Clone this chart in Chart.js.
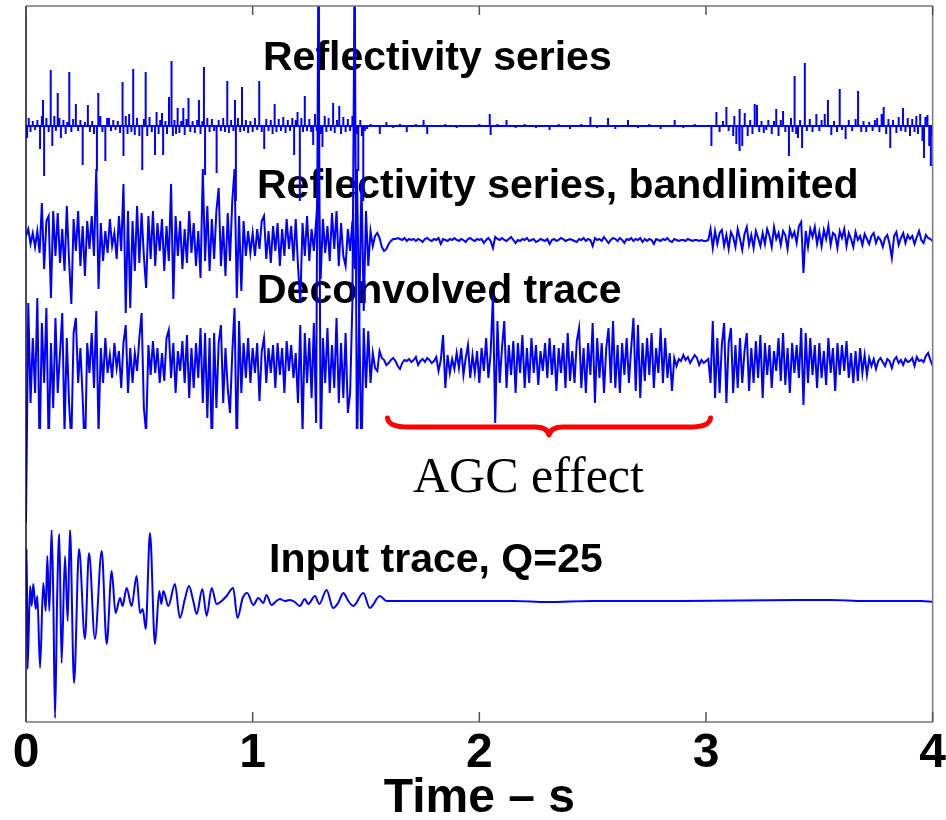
<!DOCTYPE html>
<html>
<head>
<meta charset="utf-8">
<title>Deconvolution traces</title>
<script src="https://cdn.jsdelivr.net/npm/chart.js@4.4.0/dist/chart.umd.min.js"></script>
<style>
  body { margin: 0; background: #fff; }
  #wrap { width: 946px; height: 820px; }
</style>
</head>
<body>
<div id="wrap"><canvas id="myChart" width="946" height="820"></canvas></div>
<script>
// time axis (s)
const timeTicks = [0, 1, 2, 3, 4]
const sampleStep = 0.01

// reflectivity series: spike times (s) and amplitudes
const reflTime = [0.005, 0.012, 0.02, 0.03, 0.04, 0.05, 0.062, 0.07, 0.075, 0.08, 0.09, 0.1, 0.109, 0.116, 0.125, 0.132, 0.14, 0.147, 0.154, 0.165,
  0.175, 0.182, 0.191, 0.2, 0.208, 0.22, 0.23, 0.24, 0.25, 0.26, 0.273, 0.282, 0.292, 0.3, 0.313, 0.319, 0.328, 0.337, 0.35, 0.358,
  0.366, 0.375, 0.385, 0.395, 0.405, 0.415, 0.426, 0.43, 0.44, 0.448, 0.455, 0.465, 0.473, 0.48, 0.49, 0.5, 0.513, 0.52, 0.528, 0.535,
  0.545, 0.555, 0.569, 0.576, 0.585, 0.592, 0.6, 0.605, 0.615, 0.622, 0.631, 0.642, 0.648, 0.655, 0.662, 0.669, 0.677, 0.685, 0.694, 0.7,
  0.708, 0.717, 0.725, 0.735, 0.745, 0.755, 0.763, 0.77, 0.778, 0.785, 0.79, 0.8, 0.81, 0.82, 0.83, 0.841, 0.85, 0.86, 0.87, 0.878,
  0.888, 0.895, 0.905, 0.915, 0.922, 0.926, 0.935, 0.945, 0.953, 0.962, 0.97, 0.98, 0.99, 1.0, 1.01, 1.02, 1.029, 1.04, 1.051, 1.06,
  1.07, 1.08, 1.088, 1.097, 1.105, 1.115, 1.125, 1.135, 1.145, 1.155, 1.165, 1.175, 1.183, 1.19, 1.198, 1.208, 1.215, 1.222, 1.23, 1.24,
  1.25, 1.258, 1.267, 1.275, 1.283, 1.292, 1.3, 1.308, 1.318, 1.325, 1.335, 1.345, 1.355, 1.362, 1.372, 1.382, 1.39, 1.4, 1.41, 1.42,
  1.43, 1.44, 1.45, 1.458, 1.466, 1.475, 1.482, 1.488, 1.495, 1.505, 1.52, 1.561, 1.59, 1.62, 1.65, 1.68, 1.72, 1.754, 1.77, 1.8,
  1.85, 1.9, 1.95, 2.0, 2.046, 2.05, 2.08, 2.12, 2.16, 2.2, 2.25, 2.31, 2.35, 2.4, 2.45, 2.49, 2.52, 2.568, 2.6, 2.656,
  2.7, 2.75, 2.8, 2.862, 2.9, 2.95, 2.98, 3.024, 3.046, 3.06, 3.075, 3.09, 3.1, 3.12, 3.125, 3.134, 3.146, 3.15, 3.16, 3.171,
  3.184, 3.195, 3.205, 3.215, 3.225, 3.235, 3.245, 3.255, 3.266, 3.275, 3.29, 3.3, 3.31, 3.32, 3.33, 3.34, 3.35, 3.366, 3.375, 3.382,
  3.391, 3.398, 3.406, 3.415, 3.424, 3.436, 3.445, 3.458, 3.47, 3.487, 3.5, 3.51, 3.524, 3.538, 3.553, 3.565, 3.578, 3.59, 3.6, 3.616,
  3.63, 3.645, 3.66, 3.671, 3.685, 3.695, 3.707, 3.72, 3.735, 3.745, 3.755, 3.765, 3.775, 3.784, 3.795, 3.805, 3.813, 3.825, 3.84, 3.85,
  3.86, 3.869, 3.88, 3.89, 3.9, 3.91, 3.92, 3.928, 3.935, 3.945, 3.955, 3.962, 3.968, 3.977, 3.985, 3.992, 4.0]
const reflAmp = [-12, 8, -6, 5, -4, 6, -23, 10, 26, -50, 8, -6, 56, -20, 10, -5, 33, 8, -12, 6,
  -8, 4, 54, -6, 7, 22, -5, 6, -39, 4, 21, -6, 5, -8, -45, 33, 10, -6, -35, 8,
  8, -5, 6, -4, 5, -7, 44, -30, 10, -8, 12, -6, 57, -9, 8, -10, -44, 7, 54, -10,
  9, -6, -29, 14, -8, 6, 13, -29, 5, -8, 29, 65, -10, 6, -8, 18, -7, 5, 18, -9,
  7, 28, -6, 5, -7, 6, 26, -8, 5, 59, -49, 8, -6, 7, -5, -47, 6, -5, 8, -6,
  45, -7, 6, -5, 26, -75, 8, -6, 39, -5, 6, -7, 5, -6, 8, -4, 45, -6, -23, 7,
  -5, 6, -8, 22, -6, 7, -5, 9, -7, 6, -5, 8, -29, 6, 14, -75, 8, -6, 30, -5,
  7, -6, -19, 12, -5, 200, -8, -21, 10, -6, 8, -5, 23, -7, 6, 20, -8, 9, -6, 7,
  -5, 10, 200, -8, -45, 6, -10, -75, -5, -3, 2, -8, 4, -2, 2, -6, 2, 6, -8, 1,
  2, -2, 1, 2, 12, -9, 2, 6, -2, 2, -2, -4, 2, -3, 2, 9, -2, 8, -3, 6,
  -2, 2, -3, 6, -2, 2, -1, -20, 14, -6, 5, 19, -5, -10, 10, -18, 17, -25, -20, 13,
  -10, 6, -8, 22, 21, -6, 5, -7, -4, 6, -8, 5, 17, -10, 6, 15, -6, -30, 8, -6,
  50, -8, -12, 6, -22, 63, -5, 7, -6, 12, -5, 6, 12, 26, -9, 5, -6, 37, -4, -13,
  6, -5, 7, 35, -6, 5, -6, 4, -5, 6, 8, -6, 12, 19, -8, 7, -22, 6, -7, 9,
  -5, 18, -6, 8, -10, 7, -6, 10, -8, 12, -15, -32, 9, 11, -20, -40, -10]

// bandlimited reflectivity, one value every 0.01 s
const bandAmp = [5, 12, -3, 8, -6, 10, -12, 38, -28, 20,
  25, -57, 30, -15, 28, -22, 12, -30, 35, -20,
  -63, 22, -10, 30, -25, 15, -35, 20, -8, 25,
  -15, 72, -48, 18, -20, 10, -12, 22, -5, 8,
  -18, 25, -10, 57, -72, 30, -67, 20, -30, 35,
  -22, 28, -15, -47, 25, -18, 30, -25, 18, -10,
  22, -30, 15, -20, 57, -58, 25, -15, 20, -28,
  12, -22, 30, -12, 18, -25, 10, -37, 72, -20,
  35, -30, 22, -18, 30, 53, -25, 15, -35, 28,
  -20, 40, 72, -57, 25, -50, 20, -15, 10, -12,
  8, -15, 12, -8, 20, 25, -18, 10, -22, 15,
  -10, 18, -25, 12, -15, 22, -8, 15, -20, 22,
  -25, -62, 18, -15, 25, -20, 12, -10, 20, 55,
  -38, 22, -12, 15, -20, 28, -8, 30, -25, 18,
  -15, -25, 12, -10, 20, -28, 72, -80, 60, -70,
  30, -25, 10, -5, 5, 8, 3, -6, -10, -8,
  -3, 0, 2, 2, 3, 2, 1, 3, 0, 2,
  1, 2, 0, 2, 1, -1, 2, 3, 1, 0,
  2, 1, 3, -3, 2, 1, 0, 2, 1, 3,
  1, 0, 2, 1, -1, 2, 3, 1, 0, 2,
  1, 2, -2, 1, 3, 0, -7, 4, 2, 1,
  3, 1, 0, 2, 4, 1, -2, 1, 0, 2,
  1, 3, 0, 1, 2, -1, 0, 2, 1, 0,
  2, -3, 1, 2, 0, 1, 3, 2, 0, 1,
  2, 1, 0, -1, 2, 1, 3, 0, 2, 1,
  -5, 3, 1, 2, 0, 4, 1, -2, 1, 3,
  2, 0, 3, 1, -2, 2, 1, 3, 0, 2,
  1, 3, -1, 2, 0, 2, 1, -3, 2, 1,
  0, 2, 1, 3, 0, -1, 2, 1, 0, 1,
  1, 0, 2, 1, 0, 1, 1, 0, 1, 0,
  0, 1, 12, -7, 10, -3, 8, 11, -5, 6,
  -8, 9, 4, -6, 12, 2, -9, 7, 14, -4,
  6, -7, 10, 3, -5, 8, -3, 12, 5, -6,
  14, 2, 8, -4, 10, 6, -8, 12, 4, 9,
  -2, 15, 19, -32, 10, -6, 12, 4, 14, -3,
  9, -5, 11, 2, 15, -4, 8, 6, -7, 10,
  3, 12, -5, 8, 2, -6, 9, 1, 5, -4,
  7, 2, -3, 5, 8, -2, 4, 1, -6, 3,
  6, -3, -17, 5, 9, -4, 3, 8, -2, 6,
  2, 5, -3, 4, 10, 1, -2, 6, 3, 2,
  0]

// deconvolved trace, one value every 0.01 s
const deconAmp = [-160, 60, -40, 25, -30, 65, -90, 40, -20, 55,
  -85, 20, -45, 45, -30, 10, 50, -70, 25, -40,
  -80, 30, 45, -20, 15, -35, -95, 20, -10, 30,
  -25, 52, -70, 15, -20, 25, -10, 8, -15, 20,
  -5, 12, -25, 20, 38, -30, 15, -20, 10, -8,
  25, 50, -45, -70, 18, -12, 22, -10, 15, -20,
  10, -18, 25, 33, -15, 20, -30, 12, -8, 22,
  -20, 28, -35, 15, -25, 20, -15, 35, -40, 30,
  -55, 25, -90, 30, -45, 20, 38, -40, 15, -25,
  -50, 10, 55, -90, 42, -30, 20, -15, 25, -20,
  15, -10, 20, -38, 12, 25, -20, 15, -10, 18,
  -25, 20, -12, 15, -30, 22, -8, 18, -15, 10,
  -40, 38, -70, 30, -20, 25, -35, 40, -60, 400,
  -90, 25, -20, 35, -30, 18, -25, 45, -40, 20,
  -35, 30, -50, -30, 60, 400, -100, 50, -95, 35,
  -25, 32, -20, 10, -5, -8, 12, 5, 3, -2,
  0, 3, 5, 2, -3, -6, 0, 3, 2, 4,
  1, 3, 6, -2, 2, 4, 1, 5, 3, 0,
  2, 6, -8, 3, 28, -25, 8, -10, 4, -6,
  10, -5, 15, -12, 5, 18, -15, 8, -10, 12,
  -20, 15, -8, 25, -15, 10, 68, -60, 42, -20,
  15, 42, -25, 18, -12, 22, -30, 20, -10, 28,
  -25, 15, -20, 25, -10, 18, -22, 12, -8, 20,
  -15, 25, -12, 18, -28, 15, -10, 20, -25, 30,
  -18, 12, -20, 22, 35, -25, 15, -30, 20, -12,
  40, -40, 25, -15, 20, -30, 15, 35, -20, 42,
  -25, 18, -30, 20, -12, 25, -20, 15, 45, -28,
  38, -35, 20, -18, 25, -12, 30, -25, 15, -10,
  35, -20, 25, -15, 10, -28, 5, -3, 4, 2,
  8, 3, 6, 0, 4, 8, 5, -2, 3, 0,
  2, 4, -20, 42, -35, 25, -30, 18, 40, -40,
  20, 35, -30, 18, -25, 25, -20, 12, 30, -28,
  15, -20, 22, -15, 28, -35, 20, -12, 18, -25,
  12, -8, 25, -18, 30, -22, 15, -30, 20, -10,
  18, -15, 35, -42, 30, -20, 25, -12, 18, -25,
  20, -15, 12, -22, 25, -10, 15, -28, 20, -12,
  18, -8, 22, -15, 10, -20, 12, -18, 15, -10,
  8, -12, 5, -3, 4, -6, 2, 5, 1, -3,
  4, 2, -5, 3, 6, 0, 3, -2, 4, 1,
  2, 5, -3, 6, 2, 3, 1, 7, 10, 3,
  -3]

// input trace Q=25, turning points
const inputTime = [0, 0.003, 0.007, 0.018, 0.025, 0.032, 0.043, 0.05, 0.062, 0.076, 0.087, 0.094, 0.103, 0.113, 0.121, 0.128, 0.138, 0.147, 0.157, 0.172,
  0.184, 0.194, 0.212, 0.234, 0.26, 0.278, 0.304, 0.334, 0.356, 0.378, 0.395, 0.415, 0.426, 0.444, 0.466, 0.488, 0.503, 0.515, 0.528, 0.547,
  0.569, 0.588, 0.597, 0.606, 0.628, 0.657, 0.679, 0.701, 0.719, 0.738, 0.753, 0.778, 0.797, 0.819, 0.841, 0.863, 0.885, 0.914, 0.933, 0.956,
  0.976, 1.003, 1.025, 1.047, 1.061, 1.083, 1.105, 1.12, 1.142, 1.164, 1.186, 1.208, 1.23, 1.245, 1.275, 1.294, 1.326, 1.355, 1.377, 1.4,
  1.422, 1.444, 1.488, 1.517, 1.561, 1.591, 1.9, 2.15, 2.3, 2.5, 2.9, 3.4, 3.55, 3.7, 3.95, 4.0]
const inputAmp = [20, 52, -68, 15, -5, 17, -8, 5, -67, 18, -10, 45, -10, 72, -5, -117, 10, 67, -62, 45,
  -20, 72, -82, 52, -38, 48, -38, 50, -43, 30, -12, 3, -5, 13, -5, 25, -12, -8, -28, 68,
  -43, 10, -3, 10, -5, 17, -17, 2, 15, 0, -13, 12, -15, 13, -3, 0, 5, 13, -17, 3,
  8, -4, 3, -2, 6, -4, 0, 2, 0, 1, -1, -5, 2, -3, 5, -3, 11, -7, -2, 8,
  0, -5, 8, -7, 5, 0, 0, 0, -1, 0, 0, 1, 1, 0, 0, -1]

const traceNames = ['Reflectivity series', 'Reflectivity series, bandlimited', 'Deconvolved trace', 'Input trace, Q=25']

// vertical offset of each trace on the plot
const traceOffset = [596, 481, 359, 121]

function spikes(times, amps, base) {
    let pts = [{ x: 0, y: base }]
    for (let i = 0; i < times.length; i++) {
        pts.push({ x: times[i], y: base }, { x: times[i], y: base + amps[i] }, { x: times[i], y: base })
    }
    pts.push({ x: 4, y: base })
    return pts
}
function sampled(amps, base) {
    return amps.map((a, i) => ({ x: Math.round(i * sampleStep * 100) / 100, y: base + a }))
}
function paired(times, amps, base) {
    return times.map((t, i) => ({ x: t, y: base + amps[i] }))
}

const lineStyle = { borderColor: '#0000ff', borderWidth: 2, pointRadius: 0, tension: 0, fill: false }

// trace labels go under the traces, mask / brace / frame on top
const overlay = {
    id: 'overlay',
    beforeDatasetsDraw(chart) {
        const ctx = chart.ctx
        ctx.save()
        ctx.fillStyle = '#000'
        ctx.font = 'bold 41px "Liberation Sans", Arial, sans-serif'
        ctx.textBaseline = 'alphabetic'
        const lx = [263, 257, 257, 269]
        const ly = [70, 198, 303, 572]
        for (let i = 0; i < traceNames.length; i++) ctx.fillText(traceNames[i], lx[i], ly[i])
        ctx.restore()
    },
    afterDatasetsDraw(chart) {
        const ctx = chart.ctx
        const xs = chart.scales.x
        const ys = chart.scales.y
        const a = chart.chartArea
        ctx.save()

        // white band between deconvolved and input traces
        ctx.fillStyle = '#fff'
        const mx1 = xs.getPixelForValue(0.013), mx2 = xs.getPixelForValue(3.99)
        const my1 = ys.getPixelForValue(293), my2 = ys.getPixelForValue(192)
        ctx.fillRect(mx1, my1, mx2 - mx1, my2 - my1)

        // brace over the AGC zone
        const x1 = xs.getPixelForValue(1.595), x2 = xs.getPixelForValue(3.02)
        const xm = (x1 + x2) / 2
        const yTop = 418, yLine = 427, yTip = 435
        ctx.strokeStyle = '#ff0000'
        ctx.lineWidth = 5
        ctx.lineCap = 'round'
        ctx.lineJoin = 'round'
        ctx.beginPath()
        ctx.moveTo(x1, yTop)
        ctx.quadraticCurveTo(x1 + 1, yLine, x1 + 20, yLine)
        ctx.lineTo(xm - 14, yLine)
        ctx.quadraticCurveTo(xm - 2, yLine, xm, yTip)
        ctx.quadraticCurveTo(xm + 2, yLine, xm + 14, yLine)
        ctx.lineTo(x2 - 20, yLine)
        ctx.quadraticCurveTo(x2 - 1, yLine, x2, yTop)
        ctx.stroke()

        ctx.fillStyle = '#000'
        ctx.font = '50px "Liberation Serif", "Times New Roman", serif'
        ctx.textBaseline = 'alphabetic'
        ctx.fillText('AGC effect', 413, 492)

        // box
        ctx.lineCap = 'butt'
        ctx.strokeStyle = '#7a7a7a'
        ctx.lineWidth = 1.5
        ctx.beginPath()
        ctx.moveTo(a.left, a.top)
        ctx.lineTo(a.right, a.top)
        ctx.lineTo(a.right, a.bottom)
        ctx.lineTo(a.left, a.bottom)
        ctx.stroke()
        ctx.strokeStyle = '#111'
        ctx.beginPath()
        ctx.moveTo(a.left, a.top)
        ctx.lineTo(a.left, a.bottom)
        ctx.stroke()

        // inward ticks
        ctx.strokeStyle = '#555'
        ctx.beginPath()
        for (const v of timeTicks) {
            const x = xs.getPixelForValue(v)
            ctx.moveTo(x, a.bottom)
            ctx.lineTo(x, a.bottom - 10)
            ctx.moveTo(x, a.top)
            ctx.lineTo(x, a.top + 9)
        }
        ctx.stroke()
        ctx.restore()
    }
}

const ctx = document.getElementById('myChart').getContext('2d')

const myChart = new Chart(ctx, {
    type: 'line',
    data: {
        datasets: [
            { label: traceNames[0], data: spikes(reflTime, reflAmp, traceOffset[0]), ...lineStyle },
            { label: traceNames[1], data: sampled(bandAmp, traceOffset[1]), ...lineStyle },
            { label: traceNames[2], data: sampled(deconAmp, traceOffset[2]), ...lineStyle },
            // the input wavelet is smooth, so round it off between turning points
            { label: traceNames[3], data: paired(inputTime, inputAmp, traceOffset[3]), ...lineStyle, cubicInterpolationMode: 'monotone' }
        ]
    },
    options: {
        responsive: false,
        animation: false,
        devicePixelRatio: 1,
        layout: { padding: { left: 26, right: 13, top: 6, bottom: 0 } },
        plugins: { legend: { display: false }, tooltip: { enabled: false } },
        scales: {
            x: {
                type: 'linear',
                min: 0,
                max: 4,
                afterBuildTicks: (axis) => { axis.ticks = timeTicks.map(v => ({ value: v })) },
                ticks: {
                    color: '#000',
                    padding: 0,
                    font: { family: '"Liberation Sans", Arial, sans-serif', size: 48, weight: 'bold', lineHeight: 1 },
                    maxRotation: 0
                },
                grid: { display: false, drawTicks: true, tickLength: 8 },
                border: { display: false },
                title: {
                    display: true,
                    text: 'Time – s',
                    color: '#000',
                    padding: 0,
                    font: { family: '"Liberation Sans", Arial, sans-serif', size: 48, weight: 'bold', lineHeight: 0.875 }
                }
            },
            y: { display: false, min: 0, max: 716 }
        }
    },
    plugins: [overlay]
})
</script>
</body>
</html>
